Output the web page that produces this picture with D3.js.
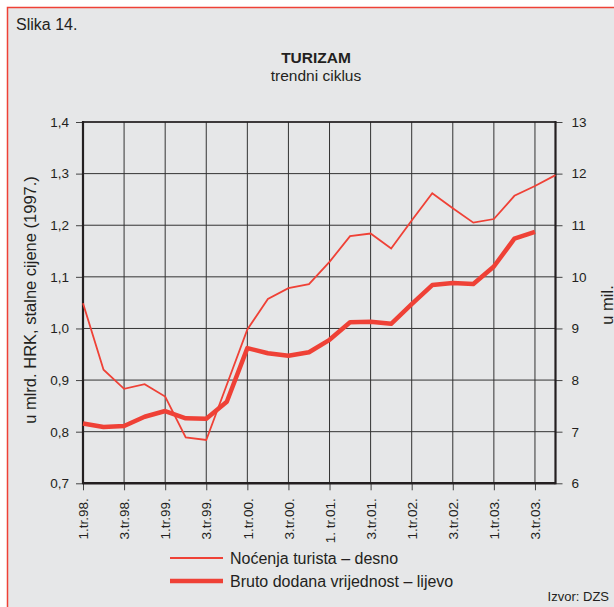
<!DOCTYPE html>
<html>
<head>
<meta charset="utf-8">
<script src="https://cdn.jsdelivr.net/npm/d3@7"></script>
<style>
  html, body { margin: 0; padding: 0; background: #fff; }
  svg { display: block; font-family: "Liberation Sans", Arial, sans-serif; }
</style>
</head>
<body>
<div id="chart"></div>
<script>
// quarters 1.tr.98. .. 4.tr.03.
const quarters = ["1.tr.98.","2.tr.98.","3.tr.98.","4.tr.98.",
                  "1.tr.99.","2.tr.99.","3.tr.99.","4.tr.99.",
                  "1.tr.00.","2.tr.00.","3.tr.00.","4.tr.00.",
                  "1. tr.01.","2.tr.01.","3.tr.01.","4.tr.01.",
                  "1.tr.02.","2.tr.02.","3.tr.02.","4.tr.02.",
                  "1.tr.03.","2.tr.03.","3.tr.03.","4.tr.03."];
const xTickIdx = [0,2,4,6,8,10,12,14,16,18,20,22];
const leftTicks = [0.7,0.8,0.9,1.0,1.1,1.2,1.3,1.4];
const rightTicks = [6,7,8,9,10,11,12,13];

// Noćenja turista (desno, u mil.)
const nocenja = [9.49, 8.20, 7.83, 7.92, 7.68, 6.89, 6.84, 7.91,
                 8.98, 9.57, 9.78, 9.86, 10.29, 10.79, 10.84, 10.55,
                 11.09, 11.62, 11.33, 11.05, 11.12, 11.57, 11.76, 11.97];
// Bruto dodana vrijednost (lijevo, mlrd. HRK)
const bruto = [0.816, 0.809, 0.811, 0.829, 0.840, 0.826, 0.825, 0.858,
               0.962, 0.952, 0.947, 0.954, 0.978, 1.012, 1.013, 1.009,
               1.047, 1.084, 1.088, 1.086, 1.120, 1.174, 1.187];

const width = 614, height = 607;
const pLeft = 83, pRight = 555.5, pTop = 122, pBottom = 483.3;
const red = "#ef4136", ink = "#231f20";

let svg = d3.select("#chart").append("svg")
    .attr("width", width)
    .attr("height", height);

svg.append("rect").attr("x", 0).attr("y", 0).attr("width", width).attr("height", height).attr("fill", "#fff");
svg.append("rect").attr("x", 7.5).attr("y", 7.5).attr("width", width + 10).attr("height", height + 10)
    .attr("fill", "#e6e7e8").attr("stroke", red).attr("stroke-width", 1.5);

let x = d3.scaleLinear().domain([0, 23]).range([pLeft, pRight]);
let yL = d3.scaleLinear().domain([0.7, 1.4]).range([pBottom, pTop]);
let yR = d3.scaleLinear().domain([6, 13]).range([pBottom, pTop]);

svg.append("text").attr("x", 16).attr("y", 30).attr("font-size", 16).attr("fill", ink).text("Slika 14.");
svg.append("text").attr("x", 316).attr("y", 63).attr("text-anchor", "middle")
    .attr("font-size", 15.5).attr("font-weight", "bold").attr("fill", ink).text("TURIZAM");
svg.append("text").attr("x", 316).attr("y", 81).attr("text-anchor", "middle")
    .attr("font-size", 15.5).attr("fill", ink).text("trendni ciklus");

// grid
let grid = svg.append("g");
grid.selectAll("line.h").data(leftTicks).enter().append("line")
    .attr("x1", pLeft).attr("x2", pRight)
    .attr("y1", d => yL(d)).attr("y2", d => yL(d))
    .attr("stroke", "#333").attr("stroke-width", 1);
grid.selectAll("line.v").data(xTickIdx).enter().append("line")
    .attr("x1", d => x(d)).attr("x2", d => x(d))
    .attr("y1", pTop).attr("y2", pBottom)
    .attr("stroke", "#333").attr("stroke-width", 1);

// axes
let axL = svg.append("g").attr("transform", `translate(${pLeft},0)`)
    .call(d3.axisLeft(yL).tickValues(leftTicks).tickSize(7).tickFormat(d => d3.format(".1f")(d).replace(".", ",")));
let axR = svg.append("g").attr("transform", `translate(${pRight},0)`)
    .call(d3.axisRight(yR).tickValues(rightTicks).tickSize(7).tickFormat(d3.format("d")));
let axB = svg.append("g").attr("transform", `translate(0,${pBottom})`)
    .call(d3.axisBottom(x).tickValues(xTickIdx).tickSize(7).tickFormat(i => quarters[i]));

[axL, axR, axB].forEach(a => {
  a.select(".domain").remove();
  a.selectAll(".tick line").attr("stroke", "#444").attr("stroke-width", 1);
  a.selectAll("text").attr("fill", ink).attr("font-size", 13.5).attr("font-family", "Liberation Sans, Arial, sans-serif");
});
axL.selectAll("text").attr("x", -14);
axR.selectAll("text").attr("x", 16);
axB.selectAll("text")
    .attr("transform", "rotate(-90)")
    .attr("text-anchor", "end")
    .attr("x", -15).attr("y", 0).attr("dy", "0.35em");

// frame lines
svg.append("line").attr("x1", pLeft).attr("x2", pLeft).attr("y1", pTop - 1).attr("y2", pBottom + 1)
    .attr("stroke", ink).attr("stroke-width", 2.2);
svg.append("line").attr("x1", pRight).attr("x2", pRight).attr("y1", pTop - 1).attr("y2", pBottom + 1)
    .attr("stroke", ink).attr("stroke-width", 2.2);
svg.append("line").attr("x1", pLeft).attr("x2", pRight).attr("y1", pBottom).attr("y2", pBottom)
    .attr("stroke", ink).attr("stroke-width", 2.4);
svg.append("line").attr("x1", pLeft).attr("x2", pRight).attr("y1", pTop).attr("y2", pTop)
    .attr("stroke", ink).attr("stroke-width", 1.6);

// series
svg.append("path").datum(nocenja)
    .attr("d", d3.line().x((d, i) => x(i)).y(d => yR(d)))
    .attr("fill", "none").attr("stroke", red).attr("stroke-width", 1.8);
svg.append("path").datum(bruto)
    .attr("d", d3.line().x((d, i) => x(i)).y(d => yL(d)))
    .attr("fill", "none").attr("stroke", red).attr("stroke-width", 4.5).attr("stroke-linejoin", "round");

// axis titles
svg.append("text").attr("transform", "translate(36,300) rotate(-90)")
    .attr("text-anchor", "middle").attr("font-size", 16.5).attr("fill", ink)
    .text("u mlrd. HRK, stalne cijene (1997.)");
svg.append("text").attr("transform", "translate(613,305) rotate(-90)")
    .attr("text-anchor", "middle").attr("font-size", 16.5).attr("fill", ink)
    .text("u mil.");

// legend
let legend = [
  {name: "Noćenja turista – desno", w: 1.8},
  {name: "Bruto dodana vrijednost – lijevo", w: 4.5}
];
let lg = svg.append("g").selectAll("g").data(legend).enter().append("g")
    .attr("transform", (d, i) => `translate(170,${558 + i * 23})`);
lg.append("line").attr("x1", 0).attr("x2", 53).attr("stroke", red).attr("stroke-width", d => d.w);
lg.append("text").attr("x", 60).attr("dy", "0.35em").attr("font-size", 16).attr("fill", ink).text(d => d.name);

svg.append("text").attr("x", 609).attr("y", 601).attr("text-anchor", "end")
    .attr("font-size", 13).attr("fill", ink).text("Izvor: DZS");
</script>
</body>
</html>
